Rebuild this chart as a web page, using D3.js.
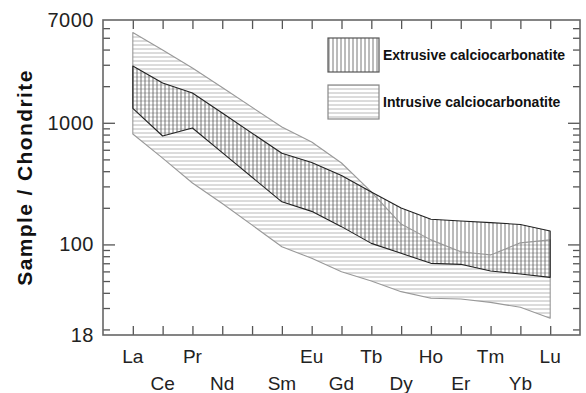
<!DOCTYPE html>
<html><head><meta charset="utf-8">
<script src="https://cdn.jsdelivr.net/npm/d3@7"></script>
<style>body{margin:0;background:#fff}text{font-family:"Liberation Sans",Arial,sans-serif}</style>
</head><body><svg id="c" width="586" height="393"></svg>
<script>
const elements = ["La","Ce","Pr","Nd","Pm","Sm","Eu","Gd","Tb","Dy","Ho","Er","Tm","Yb","Lu"];
const tickLabels = ["La","Ce","Pr","Nd","","Sm","Eu","Gd","Tb","Dy","Ho","Er","Tm","Yb","Lu"];
const extrusiveUpper = [2930,2124,1757,1204,null,561,472,369,270,199,161,156,151,146,129];
const extrusiveLower = [1315,779,906,568,null,224,187,140,102,84.5,69.9,68.6,60.4,57.1,53.6];
const intrusiveUpper = [5525,3967,2820,1950,null,923,695,467,270,147,109,87,82,103,109];
const intrusiveLower = [809,513,320,217,null,95.8,76.9,59.6,50,40.9,36.1,35.6,33.4,30.4,24.7];
const yTickLabels = [18,100,1000,7000];
const yMajor = [100,1000];
const yMinor = [20,30,40,50,60,70,80,90,200,300,400,500,600,700,800,900,2000,3000,4000,5000,6000];
const legendLabels = ["Extrusive calciocarbonatite","Intrusive calciocarbonatite"];

const svg = d3.select("#c");
const L=103,R=580,T=20,B=335;
const x = d3.scaleLinear().domain([-1,15]).range([L,R]);
const y = d3.scaleLog().domain([18,7000]).range([B,T]);

const defs = svg.append("defs");
const pv = defs.append("pattern").attr("id","vh").attr("patternUnits","userSpaceOnUse").attr("width",4).attr("height",4);
pv.append("line").attr("x1",1).attr("x2",1).attr("y1",0).attr("y2",4).attr("stroke","#555").attr("stroke-width",0.8);
const ph = defs.append("pattern").attr("id","hh").attr("patternUnits","userSpaceOnUse").attr("width",4).attr("height",4);
ph.append("line").attr("x1",0).attr("x2",4).attr("y1",1).attr("y2",1).attr("stroke","#b0b0b0").attr("stroke-width",0.9);

function band(up, lo){
  const pts = elements.map((e,i)=>({i,u:up[i],l:lo[i]})).filter(d=>d.u!=null);
  const top = pts.map(d=>[x(d.i),y(d.u)]);
  const bot = pts.slice().reverse().map(d=>[x(d.i),y(d.l)]);
  return d3.line()(top.concat(bot))+"Z";
}
const intrPath = band(intrusiveUpper,intrusiveLower);
const extrPath = band(extrusiveUpper,extrusiveLower);
svg.append("path").attr("d",intrPath).attr("fill","url(#hh)");
svg.append("path").attr("d",extrPath).attr("fill","url(#vh)");
svg.append("path").attr("d",intrPath).attr("fill","none").attr("stroke","#999").attr("stroke-width",1.1).attr("stroke-linejoin","round");
svg.append("path").attr("d",extrPath).attr("fill","none").attr("stroke","#222").attr("stroke-width",1.1).attr("stroke-linejoin","round");

// axes
const idx = d3.range(elements.length);
function style(g){g.select(".domain").remove();g.selectAll("line").attr("stroke","#555").attr("stroke-width",1.3);g.selectAll("text").remove();}
svg.append("g").attr("transform",`translate(0,${B})`).call(d3.axisTop(x).tickValues(idx).tickSize(9)).call(style);
svg.append("g").attr("transform",`translate(0,${T})`).call(d3.axisBottom(x).tickValues(idx).tickSize(9)).call(style);
svg.append("g").attr("transform",`translate(${L},0)`).call(d3.axisRight(y).tickValues(yMinor).tickSize(7)).call(style);
svg.append("g").attr("transform",`translate(${L},0)`).call(d3.axisRight(y).tickValues(yMajor).tickSize(12)).call(style);
svg.append("g").attr("transform",`translate(${R},0)`).call(d3.axisLeft(y).tickValues(yMinor).tickSize(7)).call(style);
svg.append("g").attr("transform",`translate(${R},0)`).call(d3.axisLeft(y).tickValues(yMajor).tickSize(12)).call(style);
svg.append("rect").attr("x",L).attr("y",T).attr("width",R-L).attr("height",B-T).attr("fill","none").attr("stroke","#666").attr("stroke-width",1.6);

// y labels
const yl = svg.append("g").attr("transform",`translate(${L},0)`).call(d3.axisLeft(y).tickValues(yTickLabels).tickSize(0).tickPadding(9).tickFormat(d3.format("d")));
yl.select(".domain").remove();
yl.selectAll("text").attr("font-size",20).attr("letter-spacing",0.5).attr("fill","#222").attr("font-family","Liberation Sans, Arial, sans-serif");

// x labels
svg.append("g").selectAll("text").data(idx.filter(i=>tickLabels[i])).join("text")
  .attr("x",i=>x(i)).attr("y",i=>i%2===0?363:390).attr("text-anchor","middle")
  .attr("font-size",19).attr("fill","#222").text(i=>tickLabels[i]);

// y title
svg.append("text").attr("transform","translate(32,177.5) rotate(-90)").attr("text-anchor","middle")
  .attr("font-size",21).attr("font-weight","bold").attr("letter-spacing",1.4).attr("fill","#111").text("Sample / Chondrite");

// legend
const leg = [{fill:"url(#vh)",stroke:"#555",y:38},{fill:"url(#hh)",stroke:"#888",y:85}];
leg.forEach((d,k)=>{
  svg.append("rect").attr("x",328).attr("y",d.y).attr("width",51).attr("height",34).attr("fill",d.fill).attr("stroke",d.stroke).attr("stroke-width",1.2);
  svg.append("text").attr("x",383).attr("y",d.y+22).attr("font-size",14).attr("font-weight","bold").attr("fill","#111").text(legendLabels[k]);
});
</script></body></html>
